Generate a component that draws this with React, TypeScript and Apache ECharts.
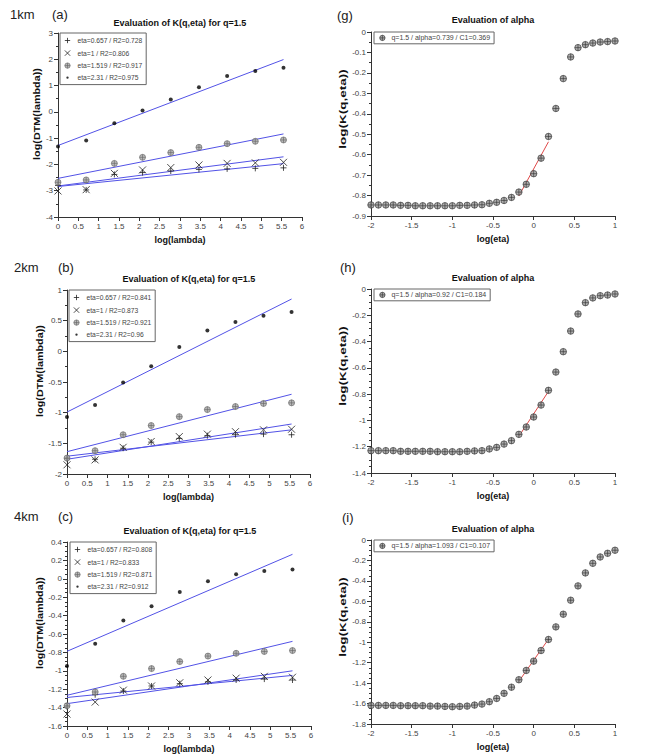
import React, { useEffect, useRef } from "react";
import * as echarts from "echarts";

const FONT = "'Liberation Sans', Arial, Helvetica, sans-serif";

// ---------- K(q,eta) panels : x = log(lambda) ----------
const logLambda = [0, 0.693, 1.386, 2.079, 2.773, 3.466, 4.159, 4.852, 5.545];

// (a) 1km
const a_eta0657 = [-2.8, -2.97, -2.38, -2.31, -2.25, -2.19, -2.17, -2.15, -2.13];
const a_eta1 = [-3.01, -2.96, -2.34, -2.21, -2.12, -2.02, -1.96, -1.94, -1.92];
const a_eta1519 = [-2.68, -2.59, -1.96, -1.73, -1.55, -1.35, -1.21, -1.12, -1.07];
const a_eta231 = [-1.32, -1.09, -0.43, 0.05, 0.47, 0.94, 1.36, 1.55, 1.68];
const a_fit0657 = [-2.84, -1.97];
const a_fit1 = [-2.82, -1.71];
const a_fit1519 = [-2.53, -0.84];
const a_fit231 = [-1.28, 1.99];

// (b) 2km
const b_eta0657 = [-1.75, -1.76, -1.58, -1.48, -1.42, -1.375, -1.36, -1.35, -1.36];
const b_eta1 = [-1.85, -1.77, -1.565, -1.47, -1.39, -1.35, -1.31, -1.28, -1.27];
const b_eta1519 = [-1.74, -1.62, -1.36, -1.21, -1.065, -0.95, -0.9, -0.85, -0.84];
const b_eta231 = [-1.07, -0.875, -0.51, -0.245, 0.07, 0.34, 0.48, 0.58, 0.64];
const b_fit0657 = [-1.71, -1.28];
const b_fit1 = [-1.76, -1.185];
const b_fit1519 = [-1.636, -0.7];
const b_fit231 = [-0.99, 0.853];

// (c) 4km
const c_eta0657 = [-1.39, -1.26, -1.22, -1.165, -1.14, -1.12, -1.1, -1.09, -1.1];
const c_eta1 = [-1.47, -1.34, -1.21, -1.165, -1.13, -1.1, -1.08, -1.06, -1.07];
const c_eta1519 = [-1.38, -1.23, -1.06, -0.976, -0.9, -0.84, -0.81, -0.79, -0.78];
const c_eta231 = [-0.948, -0.705, -0.454, -0.299, -0.143, -0.027, 0.049, 0.085, 0.1];
const c_fit0657 = [-1.29, -1.05];
const c_fit1 = [-1.357, -1.0];
const c_fit1519 = [-1.266, -0.68];
const c_fit231 = [-0.788, 0.266];

const legendA = ["eta=0.657 / R2=0.728", "eta=1 / R2=0.806", "eta=1.519 / R2=0.917", "eta=2.31 / R2=0.975"];
const legendB = ["eta=0.657 / R2=0.841", "eta=1 / R2=0.873", "eta=1.519 / R2=0.921", "eta=2.31 / R2=0.96"];
const legendC = ["eta=0.657 / R2=0.808", "eta=1 / R2=0.833", "eta=1.519 / R2=0.871", "eta=2.31 / R2=0.912"];

// ---------- alpha panels : x = log(eta) ----------
const logEta = [
  -2, -1.909, -1.818, -1.727, -1.636, -1.545, -1.455, -1.364, -1.273, -1.182, -1.091, -1,
  -0.909, -0.818, -0.727, -0.636, -0.545, -0.455, -0.364, -0.273, -0.182, -0.091, 0,
  0.091, 0.182, 0.273, 0.364, 0.455, 0.545, 0.636, 0.727, 0.818, 0.909, 1,
];
const g_K = [
  -0.846, -0.846, -0.846, -0.846, -0.848, -0.848, -0.85, -0.85, -0.85, -0.85, -0.85, -0.85,
  -0.848, -0.848, -0.846, -0.845, -0.838, -0.833, -0.824, -0.809, -0.783, -0.745, -0.693,
  -0.617, -0.511, -0.374, -0.228, -0.122, -0.0765, -0.062, -0.054, -0.049, -0.047, -0.044,
];
const h_K = [
  -1.23, -1.23, -1.23, -1.23, -1.235, -1.235, -1.235, -1.235, -1.235, -1.238, -1.238, -1.238,
  -1.238, -1.235, -1.232, -1.23, -1.217, -1.205, -1.18, -1.154, -1.106, -1.05, -0.974,
  -0.883, -0.771, -0.632, -0.477, -0.32, -0.19, -0.104, -0.068, -0.051, -0.046, -0.038,
];
const i_K = [
  -1.618, -1.618, -1.618, -1.618, -1.621, -1.621, -1.621, -1.621, -1.625, -1.625, -1.628, -1.631,
  -1.628, -1.625, -1.615, -1.605, -1.582, -1.55, -1.5, -1.44, -1.367, -1.276, -1.185,
  -1.081, -0.973, -0.85, -0.726, -0.589, -0.449, -0.322, -0.228, -0.166, -0.13, -0.1,
];
const g_fit = [-0.802, -0.537];
const h_fit = [-1.121, -0.779];
const i_fit = [-1.383, -0.97];
const legendG = "q=1.5 / alpha=0.739 / C1=0.369";
const legendH = "q=1.5 / alpha=0.92 / C1=0.184";
const legendI = "q=1.5 / alpha=1.093 / C1=0.107";

const titleK = "Evaluation of K(q,eta) for q=1.5";
const titleAlpha = "Evaluation of alpha";

// ---------- symbols ----------
const PLUS = "path://M0,-10L0,10M-10,0L10,0";
const CROSS = "path://M-10,-10L10,10M10,-10L-10,10";
const OPLUS = "path://M0,-10A10,10,0,1,1,0,10A10,10,0,1,1,0,-10ZM0,-10L0,10M-10,0L10,0";
const DOT = "path://M-10,-10L-10,-10M10,10L10,10M-4,0A4,4,0,1,1,4,0A4,4,0,1,1,-4,0Z";
// legend-only icons with transparent margins so they render smaller than the item box
const L_PLUS = "path://M-12,-12L-12,-12M12,12L12,12M0,-8L0,8M-8,0L8,0";
const L_CROSS = "path://M-12,-12L-12,-12M12,12L12,12M-8,-8L8,8M8,-8L-8,8";
const L_OPLUS = "path://M-12,-12L-12,-12M12,12L12,12M0,-8A8,8,0,1,1,0,8A8,8,0,1,1,0,-8ZM0,-8L0,8M-8,0L8,0";
const L_DOT = "path://M-12,-12L-12,-12M12,12L12,12M-3.5,0A3.5,3.5,0,1,1,3.5,0A3.5,3.5,0,1,1,-3.5,0Z";

const kSymbols = [PLUS, CROSS, OPLUS, DOT];
const kLegendIcons = [L_PLUS, L_CROSS, L_OPLUS, L_DOT];
const kSizes = [6, 7, 6, 10];
const kStyles = [
  { color: "#222", borderColor: "#222", borderWidth: 1 },
  { color: "#222", borderColor: "#222", borderWidth: 1 },
  { color: "#a8a8a8", borderColor: "#666", borderWidth: 0.8 },
  { color: "#000", borderColor: "#000", borderWidth: 0 },
];
const alphaStyle = { color: "#9a9a9a", borderColor: "#333", borderWidth: 0.8 };

const dtmPanels = [
  {
    grid: { left: 58, top: 33, width: 244, height: 184 },
    y: [-4, 3, 1, 2],
    pts: [a_eta0657, a_eta1, a_eta1519, a_eta231],
    fits: [a_fit0657, a_fit1, a_fit1519, a_fit231],
    names: legendA,
    leg: [60, 33],
  },
  {
    grid: { left: 67, top: 290, width: 243, height: 184 },
    y: [-2, 1, 0.5, 2],
    pts: [b_eta0657, b_eta1, b_eta1519, b_eta231],
    fits: [b_fit0657, b_fit1, b_fit1519, b_fit231],
    names: legendB,
    leg: [69, 290],
  },
  {
    grid: { left: 67, top: 542, width: 244, height: 184 },
    y: [-1.6, 0.4, 0.2, 4],
    pts: [c_eta0657, c_eta1, c_eta1519, c_eta231],
    fits: [c_fit0657, c_fit1, c_fit1519, c_fit231],
    names: legendC,
    leg: [70, 542],
  },
];

const alphaPanels = [
  { grid: { left: 371, top: 32, width: 244, height: 184 }, y: [-0.9, 0, 0.1, 2], pts: g_K, fit: g_fit, name: legendG, leg: [374, 32] },
  { grid: { left: 371, top: 289, width: 244, height: 184 }, y: [-1.4, 0, 0.2, 4], pts: h_K, fit: h_fit, name: legendH, leg: [374, 289] },
  { grid: { left: 371, top: 540, width: 244, height: 184 }, y: [-1.8, 0, 0.2, 4], pts: i_K, fit: i_fit, name: legendI, leg: [374, 540] },
];

const cornerLabels = [
  { text: "1km", x: 10, y: 14 },
  { text: "(a)", x: 52, y: 14 },
  { text: "2km", x: 14, y: 267 },
  { text: "(b)", x: 58, y: 267 },
  { text: "4km", x: 14, y: 516 },
  { text: "(c)", x: 58, y: 516 },
  { text: "(g)", x: 337, y: 15 },
  { text: "(h)", x: 340, y: 267 },
  { text: "(i)", x: 342, y: 517 },
];
const titles = [
  { text: titleK, x: 180, y: 23 },
  { text: titleK, x: 189, y: 279 },
  { text: titleK, x: 190, y: 531 },
  { text: titleAlpha, x: 493, y: 20 },
  { text: titleAlpha, x: 493, y: 278 },
  { text: titleAlpha, x: 493, y: 529 },
];
const yNames = [
  { text: "log(DTM(lambda))", x: 37, y: 114, s: 1.2 },
  { text: "log(DTM(lambda))", x: 40, y: 371, s: 1.2 },
  { text: "log(DTM(lambda))", x: 40, y: 623, s: 1.2 },
  { text: "log(K(q,eta))", x: 343, y: 109, s: 1.5 },
  { text: "log(K(q,eta))", x: 343, y: 366, s: 1.5 },
  { text: "log(K(q,eta))", x: 343, y: 617, s: 1.5 },
];

function axisBase() {
  return {
    type: "value" as const,
    axisLine: { show: true, onZero: false, lineStyle: { color: "#333", width: 1 } },
    axisTick: { show: true, inside: false, length: 4, lineStyle: { color: "#333" } },
    splitLine: { show: false },
    axisLabel: { fontSize: 8, color: "#444", fontFamily: FONT, margin: 5 },
  };
}

function buildOption() {
  const grid: any[] = [];
  const xAxis: any[] = [];
  const yAxis: any[] = [];
  const series: any[] = [];
  const legend: any[] = [];

  const all = [...dtmPanels.map((p) => ({ kind: "dtm", p })), ...alphaPanels.map((p) => ({ kind: "alpha", p }))];

  all.forEach(({ kind, p }: any, gi) => {
    grid.push({ ...p.grid });
    const isDtm = kind === "dtm";
    xAxis.push({
      ...axisBase(),
      gridIndex: gi,
      min: isDtm ? 0 : -2,
      max: isDtm ? 6 : 1,
      interval: 0.5,
      name: isDtm ? "log(lambda)" : "log(eta)",
      nameLocation: "middle",
      nameGap: 18,
      nameTextStyle: { fontSize: 9, fontWeight: "bold", color: "#111", fontFamily: FONT },
    });
    yAxis.push({
      ...axisBase(),
      gridIndex: gi,
      min: p.y[0],
      max: p.y[1],
      interval: p.y[2],
      minorTick: { show: true, splitNumber: p.y[3], length: 2, lineStyle: { color: "#333" } },
    });

    const legendCommon = {
      left: p.leg[0],
      top: p.leg[1],
      orient: "vertical",
      selectedMode: false,
      backgroundColor: "#fff",
      borderColor: "#666",
      borderWidth: 1,
      borderRadius: 0,
      itemWidth: isDtm ? 10 : 8,
      itemHeight: 8,
      textStyle: { fontSize: isDtm ? 6.7 : 7, color: "#444", fontFamily: FONT, lineHeight: 8 },
    };

    if (isDtm) {
      p.fits.forEach((f: number[]) => {
        series.push({
          type: "line",
          xAxisIndex: gi,
          yAxisIndex: gi,
          data: [
            [logLambda[0], f[0]],
            [logLambda[logLambda.length - 1], f[1]],
          ],
          symbol: "none",
          lineStyle: { color: "#5252e6", width: 1 },
          z: 1,
          silent: true,
        });
      });
      p.pts.forEach((ys: number[], k: number) => {
        series.push({
          type: "scatter",
          name: p.names[k],
          xAxisIndex: gi,
          yAxisIndex: gi,
          data: logLambda.map((x, j) => [x, ys[j]]),
          symbol: kSymbols[k],
          symbolSize: kSizes[k],
          itemStyle: kStyles[k],
          z: 3,
          silent: true,
        });
      });
      legend.push({
        ...legendCommon,
        padding: [3, 4, 3, 3],
        itemGap: 3.6,
        data: p.names.map((n: string, k: number) => ({ name: n, icon: kLegendIcons[k], itemStyle: kStyles[k] })),
      });
    } else {
      series.push({
        type: "line",
        xAxisIndex: gi,
        yAxisIndex: gi,
        data: [
          [logEta[20], p.fit[0]],
          [logEta[24], p.fit[1]],
        ],
        symbol: "none",
        lineStyle: { color: "#e04848", width: 1 },
        z: 1,
        silent: true,
      });
      series.push({
        type: "scatter",
        name: p.name,
        xAxisIndex: gi,
        yAxisIndex: gi,
        data: logEta.map((x, j) => [x, p.pts[j]]),
        symbol: OPLUS,
        symbolSize: 6.5,
        itemStyle: alphaStyle,
        z: 3,
        silent: true,
      });
      legend.push({
        ...legendCommon,
        padding: [1.5, 4, 1.5, 4],
        itemGap: 0,
        data: [{ name: p.name, icon: L_OPLUS, itemStyle: alphaStyle }],
      });
    }
  });

  const graphic: any[] = [
    ...cornerLabels.map((l) => ({
      type: "text",
      x: l.x,
      y: l.y,
      style: { text: l.text, font: `13px ${FONT}`, fill: "#222", textVerticalAlign: "middle", verticalAlign: "middle" },
    })),
    ...titles.map((t) => ({
      type: "text",
      x: t.x,
      y: t.y,
      style: {
        text: t.text,
        font: `bold 9px ${FONT}`,
        fill: "#111",
        textAlign: "center",
        align: "center",
        textVerticalAlign: "middle",
        verticalAlign: "middle",
      },
    })),
    ...yNames.map((n) => ({
      type: "text",
      x: n.x,
      y: n.y,
      rotation: Math.PI / 2,
      scaleX: n.s,
      style: {
        text: n.text,
        font: `bold 9px ${FONT}`,
        fill: "#111",
        textAlign: "center",
        align: "center",
        textVerticalAlign: "middle",
        verticalAlign: "middle",
      },
    })),
  ];

  return {
    animation: false,
    backgroundColor: "#fff",
    grid,
    xAxis,
    yAxis,
    series,
    legend,
    graphic,
  };
}

export default function App() {
  const ref = useRef<HTMLDivElement>(null);
  useEffect(() => {
    if (!ref.current) return;
    const chart = echarts.init(ref.current, undefined, { renderer: "svg" });
    chart.setOption(buildOption() as any);
    return () => chart.dispose();
  }, []);
  return (
    <div
      ref={ref}
      style={{ position: "absolute", left: 0, top: 0, width: 656, height: 756, background: "#fff" }}
    />
  );
}
